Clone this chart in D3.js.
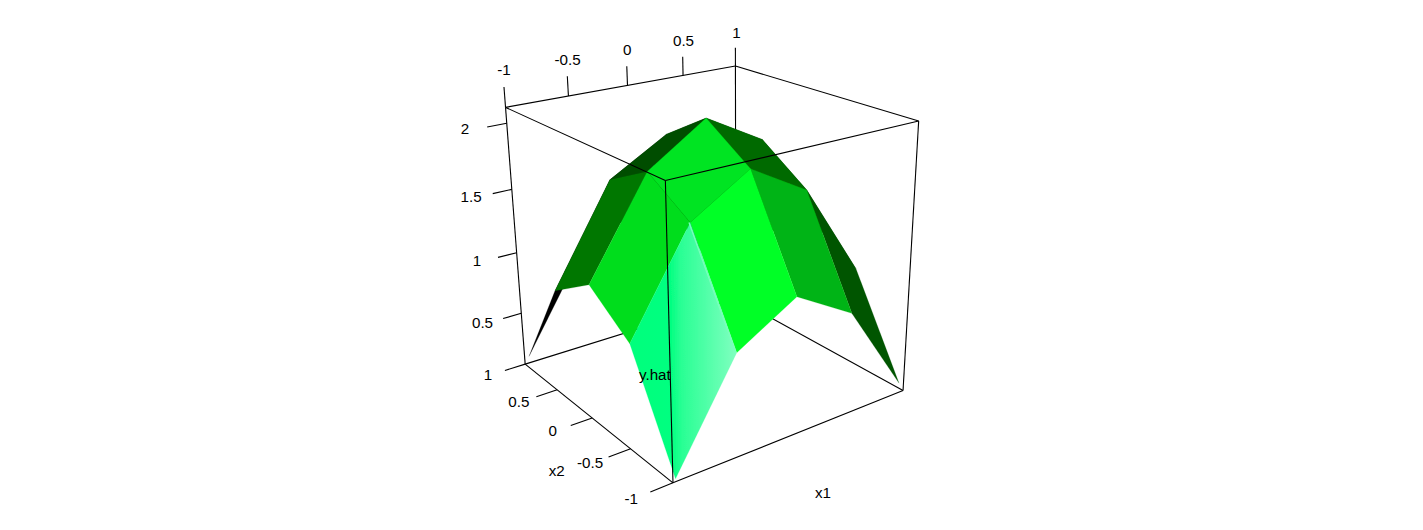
<!DOCTYPE html>
<html>
<head>
<meta charset="utf-8">
<style>
  body { margin: 0; background: #fff; }
  text { font-family: "Liberation Sans", Arial, sans-serif; font-size: 15.2px; fill: #000; }
</style>
</head>
<body>
<div id="chart"></div>
<script src="https://cdn.jsdelivr.net/npm/d3@7"></script>
<script>
// fitted response surface, rows go with x2, columns with x1
const x1Values = [-1, -0.5, 0, 0.5, 1];
const x2Values = [-1, -0.5, 0, 0.5, 1];
const yHat = [
  [0.075, 0.835, 1.095, 0.835, 0.13],
  [0.845, 1.58, 1.85, 1.595, 0.871],
  [1.09, 1.799, 2.088, 1.842, 1.09],
  [0.865, 1.604, 1.854, 1.6, 0.865],
  [0.13, 0.865, 1.09, 0.85, 0.075]
];
// light falling on each facet, 0 dark to 1 bright
const facetLight = [
  [0.8, 0.5, 0.39, 0.214],
  [0.45, 0.46, 0.267, 0.2],
  [0.3, 0.194, 0.2, 0.2],
  [0, 0.1, 0.1, 0.1]
];
const x1Ticks = [-1, -0.5, 0, 0.5, 1];
const x2Ticks = [-1, -0.5, 0, 0.5, 1];
const zTicks = [0.5, 1, 1.5, 2];
const tickText = d => String(d);

const width = 1423, height = 530;
// camera matrix, maps the unit box to the page
const camera = [
  [153.082, -16.8735, -63.4588, 709.082],
  [-15.4229, -18.5999, -272.775, 376.985],
  [0.0610875, 0.0876587, -0.0856448, 1]
];

// the surface sits just inside the box, the ticks run to its edges
var x1 = d3.scaleLinear().domain([-1, 1]).range([-0.97, 0.97]);
var x2 = d3.scaleLinear().domain([-1, 1]).range([-0.985, 0.985]);
var x1Axis = d3.scaleLinear().domain([-1, 1]).range([-1, 1]);
var x2Axis = d3.scaleLinear().domain([-1, 1]).range([-1, 1]);
var z = d3.scaleLinear().domain([0.065, 2.117]).range([0, 1]);
var lightColor = d3.scaleLinear()
  .domain([0, 0.3, 0.5, 0.75, 1])
  .range(['#000000', '#007700', '#00ff28', '#00ff80', '#ffffff']);

const depth = (u, v, w) => camera[2][0] * u + camera[2][1] * v + camera[2][2] * w + 1;
function project(u, v, w) {
  const h = depth(u, v, w);
  return [
    (camera[0][0] * u + camera[0][1] * v + camera[0][2] * w + camera[0][3]) / h,
    (camera[1][0] * u + camera[1][1] * v + camera[1][2] * w + camera[1][3]) / h
  ];
}

var svg = d3.select('#chart').append('svg')
  .attr('width', width)
  .attr('height', height);

var defs = svg.append('defs');
defs.append('filter').attr('id', 'soft')
  .attr('x', '-5%').attr('y', '-5%').attr('width', '110%').attr('height', '110%')
  .append('feGaussianBlur').attr('stdDeviation', 0.7);

// corner facet gets a sheen running across from left to right
const cornerLeft = project(x1(-1), x2(-0.5), z(yHat[1][0]));
const cornerRight = project(x1(-0.5), x2(-1), z(yHat[0][1]));
const edgeTop = project(x1(-0.5), x2(-0.5), z(yHat[1][1]));
var sheen = defs.append('linearGradient').attr('id', 'sheen')
  .attr('gradientUnits', 'userSpaceOnUse')
  .attr('x1', cornerLeft[0]).attr('y1', cornerLeft[1])
  .attr('x2', cornerRight[0]).attr('y2', cornerRight[1] - 10);
[[0, 0.74], [0.38, 0.75], [0.48, 0.79], [1, 0.875]].forEach(function (s) {
  sheen.append('stop').attr('offset', s[0]).attr('stop-color', lightColor(s[1]));
});

// box corners, named by x1 / x2 / low or high
const box = {
  A: project(-1, 1, 1), B: project(1, 1, 1), C: project(1, -1, 1), D: project(-1, -1, 1),
  E: project(-1, 1, 0), H: project(1, 1, 0), F: project(1, -1, 0), G: project(-1, -1, 0)
};
const drawEdges = function (pairs) {
  svg.append('g').selectAll('line')
    .data(pairs)
    .enter().append('line')
    .attr('x1', d => box[d[0]][0]).attr('y1', d => box[d[0]][1])
    .attr('x2', d => box[d[1]][0]).attr('y2', d => box[d[1]][1])
    .attr('stroke', '#000')
    .attr('stroke-width', 1.1);
};

// back of the box goes under the surface
drawEdges([['E', 'H'], ['H', 'F'], ['H', 'B'], ['A', 'B'], ['B', 'C'], ['A', 'E'], ['C', 'F'], ['E', 'G'], ['G', 'F']]);

// facets, far ones first
var facets = [];
x2Values.slice(0, -1).forEach(function (b, j) {
  x1Values.slice(0, -1).forEach(function (a, i) {
    const corners = [[i, j], [i + 1, j], [i + 1, j + 1], [i, j + 1]]
      .map(c => [x1(x1Values[c[0]]), x2(x2Values[c[1]]), z(yHat[c[1]][c[0]])]);
    facets.push({
      i: i, j: j,
      light: facetLight[j][i],
      points: corners.map(c => project(c[0], c[1], c[2])),
      depth: d3.mean(corners, c => depth(c[0], c[1], c[2]))
    });
  });
});
facets.sort((p, q) => d3.descending(p.depth, q.depth));

const fillOf = d => (d.i === 0 && d.j === 0) ? 'url(#sheen)' : lightColor(d.light);
var surface = svg.append('g').attr('filter', 'url(#soft)');
surface.selectAll('polygon')
  .data(facets)
  .enter().append('polygon')
  .attr('points', d => d.points.join(' '))
  .attr('fill', fillOf)
  .attr('stroke', fillOf)
  .attr('stroke-width', 0.2);

// pale rim along the right edge of the corner facet
surface.append('line')
  .attr('x1', edgeTop[0]).attr('y1', edgeTop[1])
  .attr('x2', cornerRight[0]).attr('y2', cornerRight[1])
  .attr('transform', 'translate(-1.2,0)')
  .attr('stroke', lightColor(0.87))
  .attr('stroke-width', 1.2);

// front of the box goes over it
drawEdges([['A', 'D'], ['C', 'D'], ['D', 'G']]);

// ticks and their labels, each axis pushes out along its own direction in the box
const axes = [
  { ticks: x1Ticks, at: d => [x1Axis(d), 1, 1], out: [0, 0, 0.072], label: [0.01, 0, 0.132] },
  { ticks: zTicks, at: d => [-1, 1, z(d)], out: [-0.15, 0, 0], label: [-0.315, 0, 0.008] },
  { ticks: x2Ticks, at: d => [-1, x2Axis(d), 0], out: [-0.17, 0, 0], label: [-0.31, 0, 0.004] }
];
axes.forEach(function (axis) {
  const moved = (d, by) => project(axis.at(d)[0] + by[0], axis.at(d)[1] + by[1], axis.at(d)[2] + by[2]);
  var g = svg.append('g');
  g.selectAll('line')
    .data(axis.ticks)
    .enter().append('line')
    .attr('x1', d => moved(d, [0, 0, 0])[0]).attr('y1', d => moved(d, [0, 0, 0])[1])
    .attr('x2', d => moved(d, axis.out)[0]).attr('y2', d => moved(d, axis.out)[1])
    .attr('stroke', '#000')
    .attr('stroke-width', 1.1);
  g.selectAll('text')
    .data(axis.ticks)
    .enter().append('text')
    .attr('x', d => moved(d, axis.label)[0])
    .attr('y', d => moved(d, axis.label)[1])
    .attr('text-anchor', 'middle')
    .attr('dominant-baseline', 'central')
    .text(tickText);
});

// axis names
const axisNames = [
  { name: 'y.hat', at: [-1.11, -1, 0.40] },
  { name: 'x1', at: [0.02, -1.27, -0.165] },
  { name: 'x2', at: [-1.30, 0, -0.155] }
];
svg.append('g').selectAll('text')
  .data(axisNames)
  .enter().append('text')
  .attr('x', d => project(d.at[0], d.at[1], d.at[2])[0])
  .attr('y', d => project(d.at[0], d.at[1], d.at[2])[1])
  .attr('text-anchor', 'middle')
  .attr('dominant-baseline', 'central')
  .text(d => d.name);
</script>
</body>
</html>
